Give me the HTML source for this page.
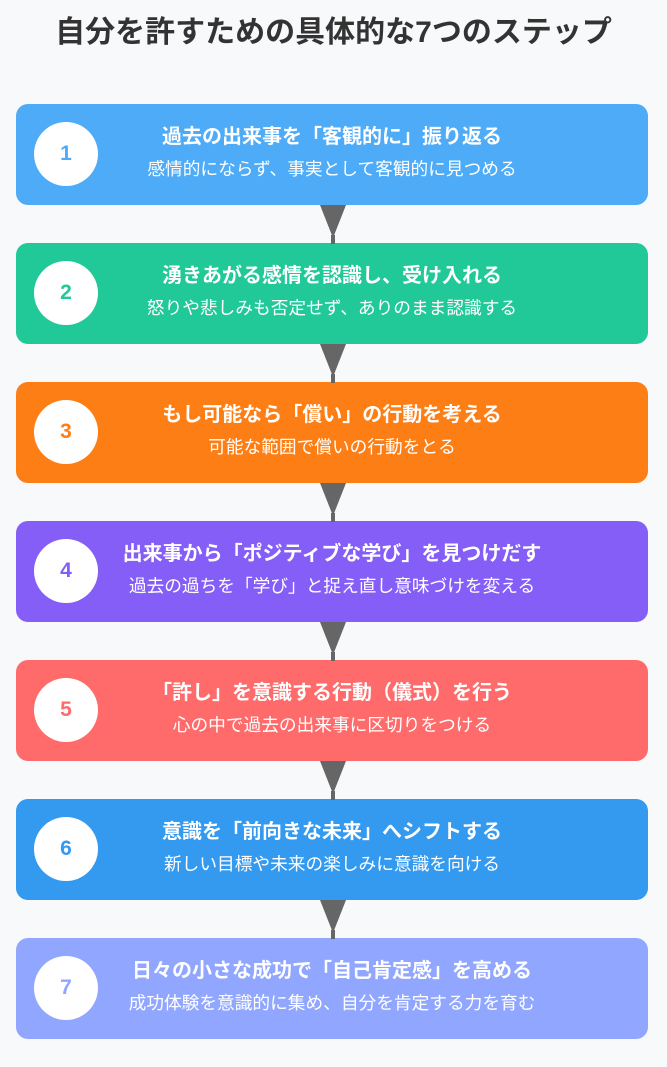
<!DOCTYPE html>
<html><head><meta charset="utf-8"><style>
body{margin:0;width:667px;height:1067px;background:#f8f9fa;font-family:"Liberation Sans","Noto Sans CJK JP",sans-serif;position:relative;overflow:hidden}
h1{position:absolute;top:14px;left:0;width:667px;text-align:center;margin:0;font-size:30px;font-weight:bold;color:#333;line-height:38px}
.b{position:absolute;left:16px;width:632px;height:101px;border-radius:12px;color:#fff}
.c{position:absolute;left:18px;top:18px;width:64px;height:64px;border-radius:50%;background:#fff;text-align:center;line-height:64px;font-size:21px;font-weight:bold}
.t{position:absolute;left:0;width:632px;top:18px;text-align:center;font-size:20px;font-weight:bold;line-height:30px}
.s{position:absolute;left:0;width:632px;top:51px;text-align:center;font-size:17.7px;line-height:28px}
.a{position:absolute;left:319px}
</style></head><body>
<h1>自分を許すための具体的な7つのステップ</h1>
<div class="b" style="top:104px;background:#4dabf7"><div class="c" style="color:#4dabf7">1</div><div class="t">過去の出来事を「客観的に」振り返る</div><div class="s">感情的にならず、事実として客観的に見つめる</div></div>
<div class="b" style="top:243px;background:#20c997"><div class="c" style="color:#20c997">2</div><div class="t">湧きあがる感情を認識し、受け入れる</div><div class="s">怒りや悲しみも否定せず、ありのまま認識する</div></div>
<div class="b" style="top:382px;background:#fd7e14"><div class="c" style="color:#fd7e14">3</div><div class="t">もし可能なら「償い」の行動を考える</div><div class="s">可能な範囲で償いの行動をとる</div></div>
<div class="b" style="top:521px;background:#845ef7"><div class="c" style="color:#845ef7">4</div><div class="t">出来事から「ポジティブな学び」を見つけだす</div><div class="s">過去の過ちを「学び」と捉え直し意味づけを変える</div></div>
<div class="b" style="top:660px;background:#ff6b6b"><div class="c" style="color:#ff6b6b">5</div><div class="t">「許し」を意識する行動（儀式）を行う</div><div class="s">心の中で過去の出来事に区切りをつける</div></div>
<div class="b" style="top:799px;background:#339af0"><div class="c" style="color:#339af0">6</div><div class="t">意識を「前向きな未来」へシフトする</div><div class="s">新しい目標や未来の楽しみに意識を向ける</div></div>
<div class="b" style="top:938px;background:#91a7ff"><div class="c" style="color:#91a7ff">7</div><div class="t">日々の小さな成功で「自己肯定感」を高める</div><div class="s">成功体験を意識的に集め、自分を肯定する力を育む</div></div>
<svg class="a" style="top:205px" width="28" height="39"><polygon points="1,0 27,0 14,33" fill="#666"/><rect x="12" y="30" width="4" height="9" fill="#666"/></svg>
<svg class="a" style="top:344px" width="28" height="39"><polygon points="1,0 27,0 14,33" fill="#666"/><rect x="12" y="30" width="4" height="9" fill="#666"/></svg>
<svg class="a" style="top:483px" width="28" height="39"><polygon points="1,0 27,0 14,33" fill="#666"/><rect x="12" y="30" width="4" height="9" fill="#666"/></svg>
<svg class="a" style="top:622px" width="28" height="39"><polygon points="1,0 27,0 14,33" fill="#666"/><rect x="12" y="30" width="4" height="9" fill="#666"/></svg>
<svg class="a" style="top:761px" width="28" height="39"><polygon points="1,0 27,0 14,33" fill="#666"/><rect x="12" y="30" width="4" height="9" fill="#666"/></svg>
<svg class="a" style="top:900px" width="28" height="39"><polygon points="1,0 27,0 14,33" fill="#666"/><rect x="12" y="30" width="4" height="9" fill="#666"/></svg>
</body></html>
